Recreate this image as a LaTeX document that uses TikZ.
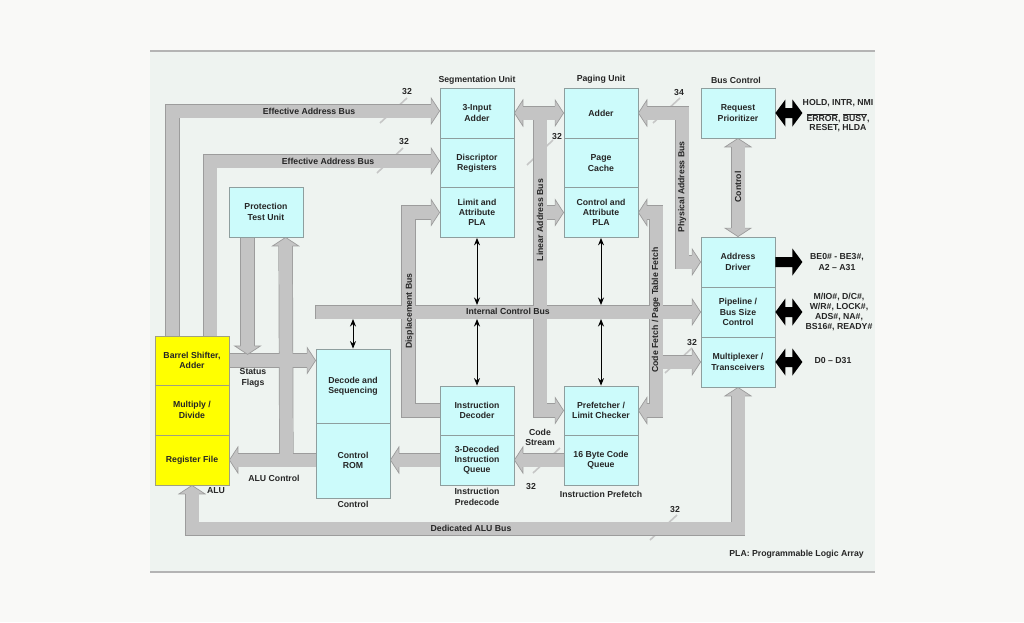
\documentclass[tikz,border=0pt]{standalone}
\usepackage{fontspec}
\setmainfont{Liberation Sans}
\usetikzlibrary{calc,arrows.meta}
\definecolor{outerbg}{HTML}{F9F9F7}
\definecolor{panel}{HTML}{EEF3F0}
\definecolor{panelline}{HTML}{B4B4B4}
\definecolor{busfill}{HTML}{C4C4C4}
\definecolor{busedge}{HTML}{9C9C9C}
\definecolor{boxfill}{HTML}{CCFBFB}
\definecolor{boxedge}{HTML}{8E9E9E}
\definecolor{alufill}{HTML}{FFFF00}
\definecolor{aluedge}{HTML}{A0A080}
\definecolor{txt}{HTML}{262626}
\definecolor{slashc}{HTML}{C6C6C6}
\pgfdeclarelayer{back}
\pgfdeclarelayer{bg}
\pgfsetlayers{back,bg,main}
\newcommand\lbl{\fontsize{8.7}{10.3}\selectfont\bfseries}
\newcommand\ovl[1]{\ensuremath{\overline{\mbox{#1}}}}
\newcommand\busnet[1]{%
 \draw[#1] ($(bsa.north west)+(18,0)$) |- ($(seg1.west)+(-8,-2)$);
 \draw[#1] ($(bsa.north west)+(55.5,0)$) |- ($(seg2.west)+(-8,-2)$);
 \draw[#1] (idec.west) -- ++(-31,0) |- ($(seg3.west)+(-8,0)$);
 \draw[#1] (ds.north west |- pl.west) -- ($(pl.west)+(-8,0)$);
 \draw[#1] ($(seg1.east)+(8,0)$) -- ($(pg1.west)+(-8,0)$);
 \draw[#1] (lab) |- ($(pf.west)+(-8,0)$);
 \draw[#1] (lab |- pg3.west) -- ($(pg3.west)+(-8,0)$);
 \draw[#1] ($(pg1.east)+(8,0)$) -- (phc) |- ($(ad.west)+(-8,0)$);
 \draw[#1] ($(pg3.east)+(8,0)$) -- (cfc) |- ($(pf.east)+(8,0)$);
 \draw[#1] (cfc |- mx.west) -- ($(mx.west)+(-8,0)$);
 \draw[#1] ($(rp.south)+(0,8)$) -- ($(ad.north)+(0,-8)$);
 \draw[#1] (bsa.east) -- ($(ds.west |- bsa.east)+(-8,0)$);
 \draw[#1] ($(ptu.south west)+(19,0)$) -- ++(0,109);
 \draw[#1] ($(rf.east)+(57,0)$) -- ($(ptu.south west)+(57,8)$);
 \draw[#1] (crom.west |- rf.east) -- ($(rf.east)+(8,0)$);
 \draw[#1] (idq.west) -- ($(crom.east |- idq.west)+(8,0)$);
 \draw[#1] (cq.west) -- ($(idq.east)+(8,0)$);
 \draw[#1] ($(mx.south)+(0,8)$) -- ++(0,133.5) -| ($(rf.south)+(0,8)$);
}
\begin{document}
\begin{tikzpicture}[x=1pt,y=-1pt,
  box/.style={draw=boxedge, fill=boxfill, line width=0.8pt, minimum width=74pt,
    minimum height=50pt, inner sep=0pt, align=center, font=\lbl, text=txt},
  alubox/.style={box, fill=alufill, draw=aluedge},
  lab/.style={font=\lbl, text=txt, align=center, inner sep=0pt},
  busout/.style={draw=busedge, line width=14.4pt},
  busin/.style={draw=busfill, line width=13pt},
  slash/.style={draw=slashc, line width=1.6pt},
  thinarr/.style={draw=black, line width=1pt,
    {Stealth[length=7.5pt,width=6pt]}-{Stealth[length=7.5pt,width=6pt]}},
  hd/.pic={
    \fill[busfill] (-8.5,-13) -- (0,0) -- (-8.5,13) -- cycle;
    \draw[busedge, line width=0.7pt] (-8.5,-7) -- (-8.5,-13) -- (0,0) -- (-8.5,13) -- (-8.5,7);
  },
  bkd/.pic={\fill[black] (0,0) -- (10,-13.5) -- (10,-5) -- (17,-5) -- (17,-13.5) -- (27,0)
    -- (17,13.5) -- (17,5) -- (10,5) -- (10,13.5) -- cycle;},
  bks/.pic={\fill[black] (0,-5) -- (17,-5) -- (17,-13.5) -- (27,0) -- (17,13.5) -- (17,5)
    -- (0,5) -- cycle;}
]
\useasboundingbox (0,0) rectangle (1024,622);
\begin{pgfonlayer}{back}
\fill[outerbg] (0,0) rectangle (1024,622);
\fill[panel] (150,51) rectangle (875,572);
\draw[panelline, line width=1.4pt] (150,51) -- (875,51) (150,572) -- (875,572);
\end{pgfonlayer}

% Segmentation unit
\node[box] (seg1) at (477,113) {3-Input\\Adder};
\node[box] (seg2) at (477,163) {Discriptor\\Registers};
\node[box] (seg3) at (477,212.5) {Limit and\\Attribute\\PLA};
% Paging unit
\node[box] (pg1) at (601,113) {Adder};
\node[box] (pg2) at (601,163) {Page\\Cache};
\node[box] (pg3) at (601,212.5) {Control and\\Attribute\\PLA};
% Bus control
\node[box] (rp) at (738,113) {Request\\Prioritizer};
\node[box] (ad) at (738,262) {Address\\Driver};
\node[box] (pl) at (738,312) {Pipeline /\\Bus Size\\Control};
\node[box] (mx) at (738,362) {Multiplexer /\\Transceivers};
% Protection
\node[box] (ptu) at (266,212) {Protection\\Test Unit};
% ALU
\node[alubox, minimum height=49pt] (bsa) at (192,360.5) {Barrel Shifter,\\Adder};
\node[alubox] (md) at (192,410) {Multiply /\\Divide};
\node[alubox] (rf) at (192,460) {Register File};
% Control
\node[box, minimum height=74pt] (ds) at (353,386) {Decode and\\Sequencing};
\node[box, minimum height=75pt] (crom) at (353,460.5) {Control\\ROM};
% Instruction predecode
\node[box, minimum height=49pt] (idec) at (477,410.5) {Instruction\\Decoder};
\node[box] (idq) at (477,460) {3-Decoded\\Instruction\\Queue};
% Instruction prefetch
\node[box, minimum height=49pt] (pf) at (601,410.5) {Prefetcher /\\Limit Checker};
\node[box] (cq) at (601,460) {16 Byte Code\\Queue};

\coordinate (lab) at (540,113);
\coordinate (phc) at (682,113);
\coordinate (cfc) at (656,212.5);

\begin{pgfonlayer}{bg}
\draw[slash] (380,123) -- (407,98);
\draw[slash] (377,173) -- (403,148);
\draw[slash] (527,165) -- (553,140);
\draw[slash] (653,123) -- (680,98);
\draw[slash] (665,373) -- (692,348);
\draw[slash] (533,473) -- (560,448);
\draw[slash] (650,540) -- (677,515);
\busnet{busout}
\busnet{busin}
\draw[busedge, line width=0.7pt] ($(ds.north west |- pl.west)+(0,-7.1)$) -- ++(0,14.2);
\pic at ($(seg1.west)+(0,-2)$) {hd};
\pic at ($(seg2.west)+(0,-2)$) {hd};
\pic at (seg3.west) {hd};
\pic at (pl.west) {hd};
\pic[rotate=180] at (seg1.east) {hd};
\pic at (pg1.west) {hd};
\pic at (pg3.west) {hd};
\pic at (pf.west) {hd};
\pic[rotate=180] at (pg1.east) {hd};
\pic at (ad.west) {hd};
\pic[rotate=180] at (pg3.east) {hd};
\pic[rotate=180] at (pf.east) {hd};
\pic at (mx.west) {hd};
\pic[rotate=90] at (rp.south) {hd};
\pic[rotate=-90] at (ad.north) {hd};
\pic at (ds.west |- bsa.east) {hd};
\pic[rotate=-90] at ($(ptu.south west)+(19,117)$) {hd};
\pic[rotate=90] at ($(ptu.south west)+(57,0)$) {hd};
\pic[rotate=180] at (rf.east) {hd};
\pic[rotate=180] at (crom.east |- idq.west) {hd};
\pic[rotate=180] at (idq.east) {hd};
\pic[rotate=90] at (mx.south) {hd};
\pic[rotate=90] at (rf.south) {hd};
\end{pgfonlayer}

% thin control arrows
\draw[thinarr] (seg3.south) -- ($(seg3.south |- pl.west)+(0,-7)$);
\draw[thinarr] ($(idec.north |- pl.west)+(0,7)$) -- (idec.north);
\draw[thinarr] (pg3.south) -- ($(pg3.south |- pl.west)+(0,-7)$);
\draw[thinarr] ($(pf.north |- pl.west)+(0,7)$) -- (pf.north);
\draw[thinarr] ($(ds.north |- pl.west)+(0,7)$) -- (ds.north);

% external black arrows
\pic at (rp.east) {bkd};
\pic at (ad.east) {bks};
\pic at (pl.east) {bkd};
\pic at (mx.east) {bkd};

% group labels
\node[lab] (segl) at (477,80) {Segmentation Unit};
\node[lab] (pgl) at (601,79) {Paging Unit};
\node[lab] (bcl) at (736,80) {Bus Control};
\node[lab] (alul) at (216,491) {ALU};
\node[lab] (ctll) at (353,504) {Control};
\node[lab] (ipdl) at (477,497) {Instruction\\Predecode};
\node[lab] (ipfl) at (601,494) {Instruction Prefetch};

% bus labels
\node[lab] (eab1) at (309,111) {Effective Address Bus};
\node[lab] (w1) at (407,92) {32};
\node[lab] (eab2) at (328,161) {Effective Address Bus};
\node[lab] (w2) at (404,142) {32};
\node[lab, rotate=90] (dspl) at (409.5,311) {Displacement Bus};
\node[lab] (icbl) at (508,311) {Internal Control Bus};
\node[lab, rotate=90] (labl) at (540,220) {Linear Address Bus};
\node[lab] (w3) at (557,137) {32};
\node[lab, rotate=90] (pabl) at (682,187) {Physical Address Bus};
\node[lab] (w4) at (679,93) {34};
\node[lab, rotate=90] (cfl) at (656,310) {Code Fetch / Page Table Fetch};
\node[lab] (w5) at (692,343) {32};
\node[lab, rotate=90] (ctl2) at (738,187) {Control};
\node[lab] (sfl) at (253,378) {Status\\Flags};
\node[lab] (alucl) at (274,478) {ALU Control};
\node[lab] (csl) at (540,437.5) {Code\\Stream};
\node[lab] (w6) at (531,486) {32};
\node[lab] (dab) at (471,528) {Dedicated ALU Bus};
\node[lab] (w7) at (675,509) {32};
\node[lab, anchor=east] (plal) at (864,554) {PLA: Programmable Logic Array};

% external signal texts
\node[lab] (ext1a) at (838,103) {HOLD, INTR, NMI};
\node[lab] (ext1b) at (838,118) {\ovl{ERROR}, \ovl{BUSY},};
\node[lab] (ext1c) at (838,128.5) {RESET, HLDA};
\node[lab] (ext2) at (837,262) {BE0\# - BE3\#,\\A2 – A31};
\node[lab] (ext3) at (839,312) {M/IO\#, D/C\#,\\W/R\#, LOCK\#,\\ADS\#, NA\#,\\BS16\#, READY\#};
\node[lab] (ext4) at (833,361) {D0 – D31};
\end{tikzpicture}
\end{document}
